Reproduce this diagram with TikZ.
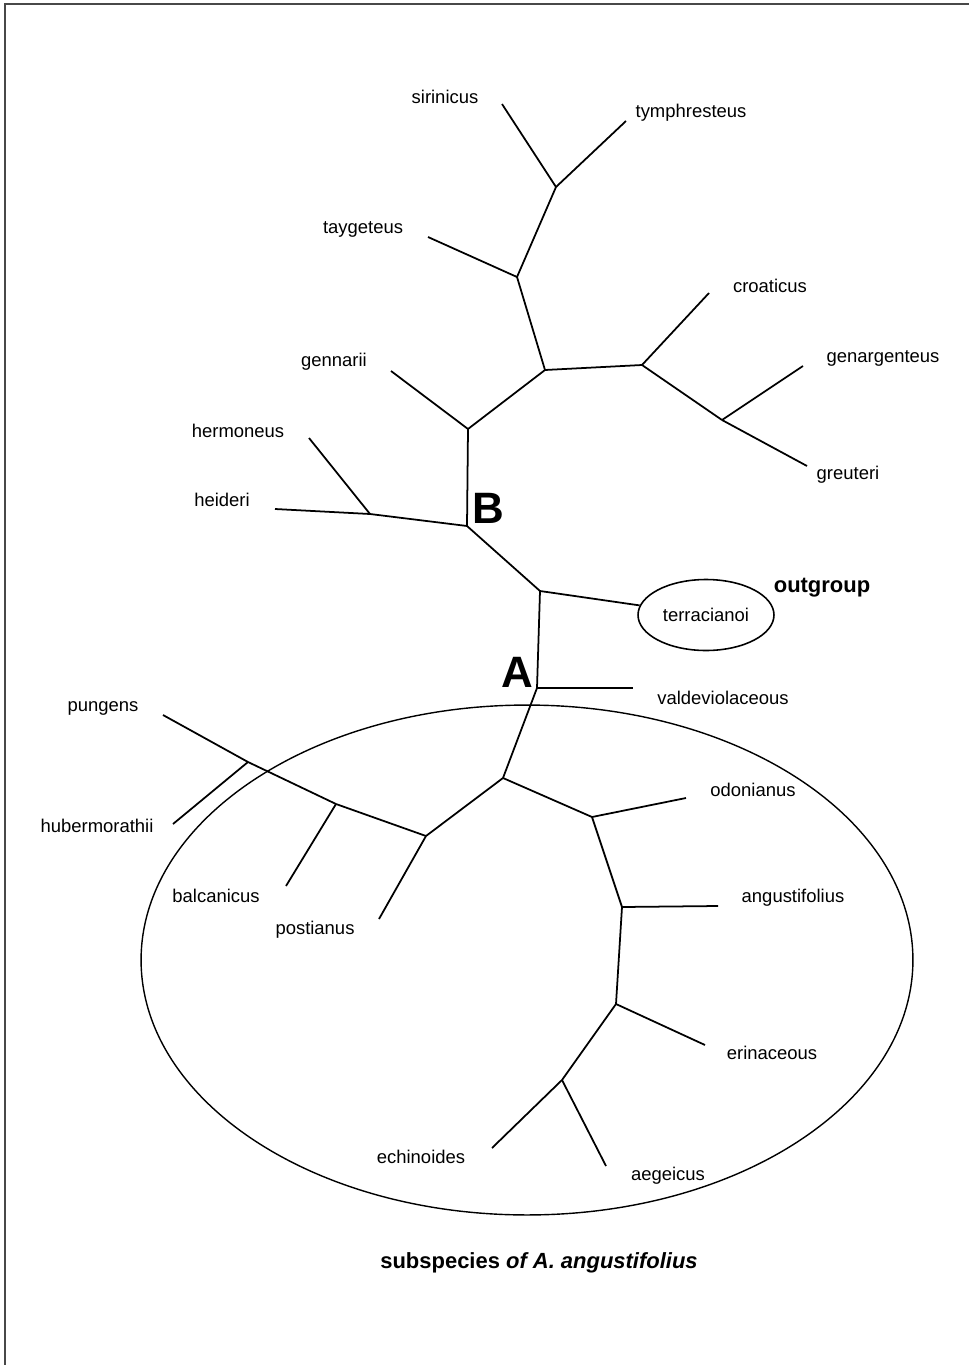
\documentclass[tikz,border=0pt]{standalone}
\usepackage{fontspec}
\setmainfont{Liberation Sans}
\usetikzlibrary{shapes,positioning}
\definecolor{framegray}{RGB}{72, 72, 72}

\tikzset{
  branch/.style={line width=1pt, black},
  taxon/.style={font=\fontsize{10.5}{12}\selectfont, inner sep=0pt},
  cladelabel/.style={font=\fontsize{25}{28}\selectfont\bfseries, inner sep=0pt},
}

\begin{document}
\begin{tikzpicture}[x=0.02cm, y=-0.02cm]
        \useasboundingbox (0,0) rectangle (969,1365);
        % Page frame (top and left edge)
        \draw[framegray, line width=1.4pt] (969,4) -- (5,4) -- (5,1365);

        % Junctions of the tree
        \coordinate (A) at (537,688);
        \coordinate (B) at (467,526);
        \coordinate (n1) at (556,187);
        \coordinate (n2) at (517,277);
        \coordinate (n3) at (545,370);
        \coordinate (n4) at (642,365);
        \coordinate (n5) at (722,420);
        \coordinate (n6) at (468,429);
        \coordinate (n7) at (370,514);
        \coordinate (n8) at (540,591);
        \coordinate (n9) at (503,778);
        \coordinate (n10) at (426,836);
        \coordinate (n11) at (336,804);
        \coordinate (n12) at (248,762);
        \coordinate (n13) at (592,817);
        \coordinate (n14) at (622,907);
        \coordinate (n15) at (616,1004);
        \coordinate (n16) at (562,1080);

        % Tips of the branches
        \coordinate (sir) at (502,104);
        \coordinate (tym) at (626,121);
        \coordinate (tay) at (428,237);
        \coordinate (cro) at (709,293);
        \coordinate (gar) at (803,366);
        \coordinate (gre) at (807,466);
        \coordinate (gen) at (391,371);
        \coordinate (her) at (309,438);
        \coordinate (hei) at (275,509);
        \coordinate (val) at (633,688);
        \coordinate (pun) at (163,715);
        \coordinate (hub) at (173,824);
        \coordinate (bal) at (286,886);
        \coordinate (pos) at (379,919);
        \coordinate (odo) at (686,798);
        \coordinate (ang) at (718,906);
        \coordinate (eri) at (705,1045);
        \coordinate (ech) at (492,1148);
        \coordinate (aeg) at (606,1166);

        % Outgroup and subspecies ellipses
        \node[draw, ellipse, line width=0.9pt, minimum width=2.72cm, minimum height=1.42cm, taxon] (terr) at (706,615) {terracianoi};
        \node[draw, ellipse, line width=0.8pt, minimum width=15.44cm, minimum height=10.2cm] (subsp) at (527,960) {};

        % Upper clade
        \draw[branch] (n1) -- (sir);
        \draw[branch] (n1) -- (tym);
        \draw[branch] (n2) -- (n1);
        \draw[branch] (n2) -- (tay);
        \draw[branch] (n3) -- (n2);
        \draw[branch] (n3) -- (n4);
        \draw[branch] (n4) -- (cro);
        \draw[branch] (n4) -- (n5);
        \draw[branch] (n5) -- (gar);
        \draw[branch] (n5) -- (gre);
        \draw[branch] (n6) -- (n3);
        \draw[branch] (n6) -- (gen);
        \draw[branch] (B) -- (n6);
        \draw[branch] (B) -- (n7);
        \draw[branch] (n7) -- (her);
        \draw[branch] (n7) -- (hei);
        \draw[branch] (n8) -- (B);
        \draw[branch] (n8) -- (terr);
        \draw[branch] (A) -- (n8);
        \draw[branch] (A) -- (val);

        % Lower clade
        \draw[branch] (A) -- (n9);
        \draw[branch] (n9) -- (n10);
        \draw[branch] (n10) -- (pos);
        \draw[branch] (n10) -- (n11);
        \draw[branch] (n11) -- (bal);
        \draw[branch] (n11) -- (n12);
        \draw[branch] (n12) -- (pun);
        \draw[branch] (n12) -- (hub);
        \draw[branch] (n9) -- (n13);
        \draw[branch] (n13) -- (odo);
        \draw[branch] (n13) -- (n14);
        \draw[branch] (n14) -- (ang);
        \draw[branch] (n14) -- (n15);
        \draw[branch] (n15) -- (eri);
        \draw[branch] (n15) -- (n16);
        \draw[branch] (n16) -- (ech);
        \draw[branch] (n16) -- (aeg);

        % Taxon names
        \node[taxon] (lsir) at (445,97) {sirinicus};
        \node[taxon] (ltym) at (691,113) {tymphresteus};
        \node[taxon] (ltay) at (363,229) {taygeteus};
        \node[taxon] (lcro) at (770,286) {croaticus};
        \node[taxon] (lgar) at (883,358) {genargenteus};
        \node[taxon] (lgre) at (848,475) {greuteri};
        \node[taxon] (lgen) at (334,362) {gennarii};
        \node[taxon] (lher) at (238,431) {hermoneus};
        \node[taxon] (lhei) at (222,500) {heideri};
        \node[taxon] (lval) at (723,698) {valdeviolaceous};
        \node[taxon] (lpun) at (103,708) {pungens};
        \node[taxon] (lhub) at (97,826) {hubermorathii};
        \node[taxon] (lbal) at (216,896) {balcanicus};
        \node[taxon] (lpos) at (315,930) {postianus};
        \node[taxon] (lodo) at (753,790) {odonianus};
        \node[taxon] (lang) at (793,898) {angustifolius};
        \node[taxon] (leri) at (772,1053) {erinaceous};
        \node[taxon] (lech) at (421,1157) {echinoides};
        \node[taxon] (laeg) at (668,1176) {aegeicus};

        % Clade and group labels
        \node[cladelabel] (la) at (517,672) {A};
        \node[cladelabel] (lb) at (488,508) {B};
        \node[font=\fontsize{12.5}{14}\selectfont\bfseries, inner sep=0pt] (lout) at (822,588) {outgroup};
        \node[font=\fontsize{12.5}{14}\selectfont\bfseries, inner sep=0pt] (caption) at (539,1263) {subspecies \textit{of A. angustifolius}};
\end{tikzpicture}
\end{document}
